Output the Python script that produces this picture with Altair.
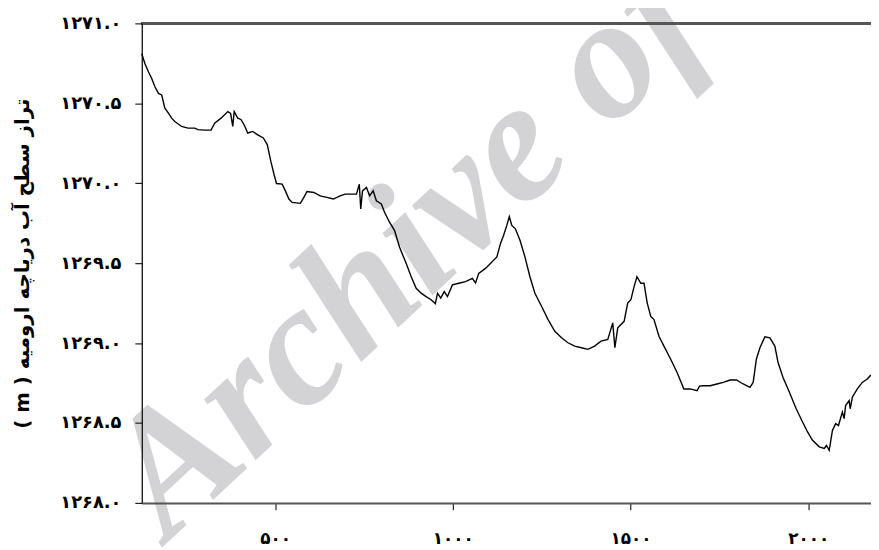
import altair as alt
import pandas as pd

# ---- data ----
days = [125, 134, 144, 153, 162, 172, 181, 190, 200, 209, 218, 237, 255, 274, 283, 302, 320,
        330, 348, 367, 375, 381, 385, 395, 404, 413, 423, 437, 450, 467, 478, 488, 497, 504,
        520, 529, 539, 548, 571, 581, 590, 609, 627, 646, 664, 683, 697, 729, 737, 741, 746,
        757, 766, 776, 785, 799, 808, 822, 836, 850, 869, 883, 897, 911, 925, 939, 951, 957,
        966, 976, 985, 999, 1017, 1036, 1055, 1064, 1073, 1092, 1106, 1115, 1124, 1134, 1143,
        1152, 1159, 1166, 1176, 1189, 1203, 1217, 1231, 1250, 1268, 1287, 1306, 1324, 1343,
        1362, 1380, 1399, 1417, 1436, 1450, 1456, 1464, 1482, 1492, 1501, 1510, 1518, 1529,
        1538, 1547, 1557, 1566, 1580, 1594, 1613, 1631, 1650, 1668, 1687, 1694, 1705, 1724,
        1743, 1761, 1780, 1798, 1817, 1836, 1845, 1854, 1864, 1878, 1892, 1906, 1915, 1929,
        1947, 1966, 1984, 1998, 2012, 2031, 2045, 2051, 2059, 2068, 2077, 2085, 2096, 2101,
        2105, 2115, 2118, 2124, 2138, 2152, 2166, 2176]
levels = [1270.810, 1270.748, 1270.696, 1270.655, 1270.603, 1270.562, 1270.552, 1270.469,
          1270.438, 1270.407, 1270.386, 1270.355, 1270.345, 1270.345, 1270.335, 1270.332,
          1270.332, 1270.376, 1270.407, 1270.448, 1270.436, 1270.355, 1270.448, 1270.407,
          1270.399, 1270.366, 1270.314, 1270.324, 1270.304, 1270.283, 1270.242, 1270.138,
          1270.056, 1269.998, 1269.994, 1269.952, 1269.901, 1269.880, 1269.874, 1269.911,
          1269.948, 1269.942, 1269.921, 1269.911, 1269.901, 1269.921, 1269.932, 1269.932,
          1269.994, 1269.839, 1269.952, 1269.973, 1269.921, 1269.952, 1269.890, 1269.870,
          1269.818, 1269.756, 1269.705, 1269.601, 1269.498, 1269.415, 1269.343, 1269.312,
          1269.291, 1269.271, 1269.246, 1269.312, 1269.281, 1269.322, 1269.291, 1269.364,
          1269.374, 1269.384, 1269.405, 1269.376, 1269.436, 1269.467, 1269.498, 1269.519,
          1269.539, 1269.622, 1269.674, 1269.736, 1269.791, 1269.736, 1269.715, 1269.643,
          1269.539, 1269.415, 1269.312, 1269.229, 1269.147, 1269.074, 1269.033, 1269.002,
          1268.981, 1268.971, 1268.961, 1268.981, 1269.012, 1269.023, 1269.126, 1268.971,
          1269.095, 1269.136, 1269.250, 1269.271, 1269.353, 1269.415, 1269.374, 1269.374,
          1269.250, 1269.167, 1269.147, 1269.043, 1268.981, 1268.899, 1268.816, 1268.713,
          1268.713, 1268.702, 1268.731, 1268.733, 1268.733, 1268.744, 1268.754, 1268.769,
          1268.770, 1268.744, 1268.723, 1268.754, 1268.899, 1268.971, 1269.039, 1269.033,
          1268.981, 1268.878, 1268.785, 1268.692, 1268.589, 1268.506, 1268.444, 1268.392,
          1268.351, 1268.341, 1268.359, 1268.330, 1268.454, 1268.496, 1268.484, 1268.568,
          1268.527, 1268.609, 1268.640, 1268.589, 1268.661, 1268.713, 1268.754, 1268.775,
          1268.800]

x_ticks = [500, 1000, 1500, 2000]
x_tick_labels = ["۵۰۰", "۱۰۰۰", "۱۵۰۰", "۲۰۰۰"]
y_ticks = [1268.0, 1268.5, 1269.0, 1269.5, 1270.0, 1270.5, 1271.0]
y_tick_labels = ["۱۲۶۸.۰", "۱۲۶۸.۵", "۱۲۶۹.۰", "۱۲۶۹.۵", "۱۲۷۰.۰", "۱۲۷۰.۵", "۱۲۷۱.۰"]
y_title = "\u202bتراز سطح آب دریاچه ارومیه ( m )\u202c"
watermark = ["Archive of SID"]

x_domain = [125, 2176.5]
y_domain = [1268.0, 1271.0]


def label_expr(values, labels):
    expr = "''"
    for v, l in reversed(list(zip(values, labels))):
        expr = f"datum.value == {v} ? '{l}' : ({expr})"
    return expr


df = pd.DataFrame({"day": days, "level": levels})
wm = pd.DataFrame({"t": watermark})

FONT = "DejaVu Sans"

x_enc = alt.X(
    "day:Q",
    scale=alt.Scale(domain=x_domain, nice=False, zero=False),
    axis=alt.Axis(
        values=x_ticks, labelExpr=label_expr(x_ticks, x_tick_labels), title=None,
        grid=False, domainColor="#555555", domainWidth=2, tickColor="#222222",
        tickWidth=1.2, tickSize=7, labelPadding=21, labelFont=FONT, labelFontSize=17,
        labelFontWeight="bold", labelColor="#000000", labelBaseline="top", zindex=1,
    ),
)
y_enc = alt.Y(
    "level:Q",
    scale=alt.Scale(domain=y_domain, nice=False, zero=False),
    axis=alt.Axis(
        values=y_ticks, labelExpr=label_expr(y_ticks, y_tick_labels), title=y_title,
        grid=False, domainColor="#000000", domainWidth=1.2, tickColor="#222222",
        tickWidth=1.2, tickSize=7, labelPadding=14, labelFont=FONT, labelFontSize=18,
        labelFontWeight="bold", labelColor="#000000", zindex=1,
        titleFont=FONT, titleFontSize=20, titleFontWeight="bold", titleColor="#000000",
        titleAngle=270, titleX=-120, titleY=242, titleAlign="center", titleBaseline="middle",
    ),
)

water = alt.Chart(wm).mark_text(
    font="Liberation Serif", fontStyle="italic", fontWeight="bold", fontSize=175,
    color="#d3d3d5", align="left", baseline="alphabetic", angle=317,
).encode(text="t:N", x=alt.value(27), y=alt.value(523))

line = alt.Chart(df).mark_line(color="#000000", strokeWidth=1.4).encode(x=x_enc, y=y_enc)

top = alt.Chart(df).mark_rule(color="#555555", strokeWidth=2).encode(y=alt.datum(1271.0))

chart = alt.layer(water, line, top).properties(
    width=736, height=484,
    autosize=alt.AutoSizeParams(type="none"),
    padding={"left": 135, "top": 13, "right": 0, "bottom": 45},
).configure_view(stroke=None).configure(background="#ffffff")

chart.save("out.html", embed_options={"renderer": "svg", "actions": False})
